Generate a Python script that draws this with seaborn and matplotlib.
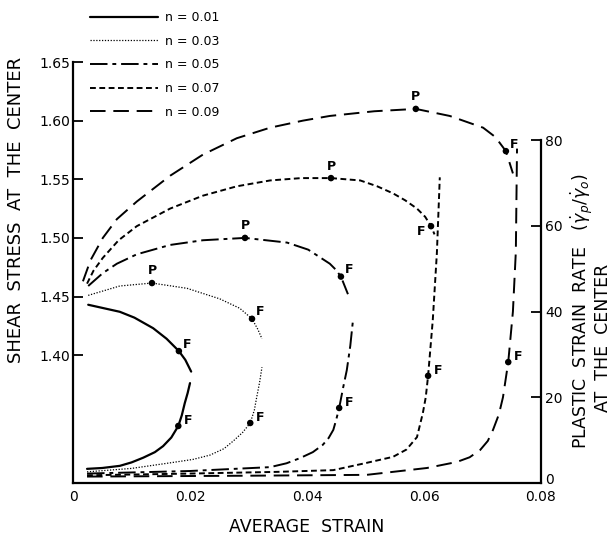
import matplotlib
matplotlib.use("Agg")
import matplotlib.pyplot as plt
import matplotlib.transforms as mtransforms
import seaborn as sns

n_labels = ["n = 0.01", "n = 0.03", "n = 0.05", "n = 0.07", "n = 0.09"]

# shear stress at the center (left axis) vs average strain
stress_x_01 = [0.0026, 0.008, 0.0105, 0.0137, 0.016, 0.0181, 0.0192, 0.0202]
stress_y_01 = [1.443, 1.437, 1.432, 1.423, 1.414, 1.4035, 1.396, 1.386]
stress_x_03 = [0.0026, 0.008, 0.0135, 0.0195, 0.0251, 0.0285, 0.0306, 0.0316, 0.0323]
stress_y_03 = [1.451, 1.459, 1.4615, 1.457, 1.448, 1.440, 1.431, 1.422, 1.414]
stress_x_05 = [0.0026, 0.0051, 0.0075, 0.0109, 0.0166, 0.0222, 0.0294, 0.0366, 0.0402,
               0.0439, 0.0449, 0.0458, 0.047]
stress_y_05 = [1.459, 1.470, 1.478, 1.486, 1.494, 1.498, 1.500, 1.496, 1.490,
               1.478, 1.473, 1.467, 1.452]
stress_x_07 = [0.0024, 0.0035, 0.0051, 0.0078, 0.0109, 0.0166, 0.0222, 0.028, 0.0337, 0.039,
               0.0441, 0.0491, 0.052, 0.0547, 0.0568, 0.0588, 0.0602, 0.0612, 0.0618]
stress_y_07 = [1.461, 1.472, 1.483, 1.498, 1.510, 1.525, 1.536, 1.544, 1.549, 1.551,
               1.551, 1.549, 1.544, 1.538, 1.532, 1.525, 1.518, 1.510, 1.503]
stress_x_09 = [0.0017, 0.003, 0.0051, 0.0075, 0.0109, 0.0166, 0.0222, 0.028, 0.0337, 0.0393,
               0.0439, 0.0515, 0.0586, 0.0644, 0.0701, 0.0722, 0.0740, 0.0752]
stress_y_09 = [1.463, 1.481, 1.500, 1.516, 1.531, 1.553, 1.571, 1.585, 1.594, 1.600,
               1.604, 1.608, 1.610, 1.604, 1.594, 1.586, 1.574, 1.555]

# plastic strain rate at the center (right axis)
rate_x_01 = [0.0024, 0.005, 0.008, 0.010, 0.012, 0.014, 0.0154, 0.0168, 0.018, 0.0186,
             0.0191, 0.0196, 0.0200]
rate_y_01 = [3.3, 3.5, 4.0, 4.8, 5.9, 7.2, 8.6, 10.6, 13.3, 15.8, 18.6, 21.0, 23.3]
rate_x_03 = [0.0024, 0.010, 0.0166, 0.0205, 0.0234, 0.0258, 0.0274, 0.029, 0.0303, 0.0310,
             0.0314, 0.0319, 0.0323]
rate_y_03 = [2.6, 3.4, 4.7, 5.5, 6.5, 8.0, 9.8, 11.8, 14.0, 17.0, 20.0, 23.5, 27.0]
rate_x_05 = [0.0024, 0.020, 0.0337, 0.0365, 0.0388, 0.041, 0.0427, 0.0437, 0.0445, 0.0450,
             0.0455, 0.0462, 0.0468, 0.0474, 0.0479]
rate_y_05 = [2.2, 2.8, 3.7, 4.6, 5.8, 7.2, 8.9, 10.5, 12.4, 14.8, 17.5, 22.4, 26.3, 32.0, 38.5]
rate_x_07 = [0.0024, 0.020, 0.035, 0.0445, 0.0502, 0.0547, 0.057, 0.0588, 0.0598, 0.0603,
             0.0607, 0.0615, 0.0622, 0.0627]
rate_y_07 = [1.8, 2.2, 2.6, 3.0, 4.7, 6.1, 7.8, 10.7, 16.3, 20.0, 25.0, 38.0, 53.6, 71.3]
rate_x_09 = [0.0024, 0.030, 0.040, 0.0502, 0.0605, 0.0656, 0.0678, 0.0696, 0.0709, 0.0718,
             0.0728, 0.0735, 0.0744, 0.0752, 0.0757, 0.0759]
rate_y_09 = [1.5, 1.7, 1.8, 1.9, 3.5, 4.9, 6.0, 7.7, 9.8, 12.4, 16.0, 20.0, 28.2, 40.0, 54.0, 78.0]

# P (peak) and F points
p_x = [0.0135, 0.0294, 0.0441, 0.0586]
p_y = [1.4615, 1.500, 1.551, 1.610]
f_stress_x = [0.0181, 0.0306, 0.0458, 0.0612, 0.0740]
f_stress_y = [1.4035, 1.431, 1.467, 1.510, 1.574]
f_rate_x = [0.018, 0.0303, 0.0455, 0.0607, 0.0744]
f_rate_y = [13.3, 14.0, 17.5, 25.0, 28.2]

stress_curves = [(stress_x_01, stress_y_01), (stress_x_03, stress_y_03), (stress_x_05, stress_y_05),
                 (stress_x_07, stress_y_07), (stress_x_09, stress_y_09)]
rate_curves = [(rate_x_01, rate_y_01), (rate_x_03, rate_y_03), (rate_x_05, rate_y_05),
               (rate_x_07, rate_y_07), (rate_x_09, rate_y_09)]
line_styles = ['-', (0, (1, 1.3)), (0, (9, 2.5, 2, 2.5)), (0, (3, 1.8)), (0, (8, 4))]
line_widths = [1.6, 0.9, 1.4, 1.4, 1.4]

sns.set_theme(style="white")
plt.rcParams['font.family'] = ['DejaVu Sans']
plt.rcParams['text.color'] = 'black'
plt.rcParams['axes.labelcolor'] = 'black'
plt.rcParams['xtick.color'] = 'black'
plt.rcParams['ytick.color'] = 'black'

fig = plt.figure(figsize=(6.14, 5.39), dpi=100)
ax = fig.add_axes([73/614, 1 - 483/539, 468/614, 421/539])
ax2 = ax.twinx()

handles = []
for i in range(5):
    sx, sy = stress_curves[i]
    rx, ry = rate_curves[i]
    sns.lineplot(x=sx, y=sy, ax=ax, color='black', sort=False, estimator=None,
                 linestyle=line_styles[i], linewidth=line_widths[i])
    handles.append(ax.get_lines()[-1])
    sns.lineplot(x=rx, y=ry, ax=ax2, color='black', sort=False, estimator=None,
                 linestyle=line_styles[i], linewidth=line_widths[i])

sns.scatterplot(x=p_x, y=p_y, ax=ax, color='black', s=22, edgecolor='none', zorder=5)
sns.scatterplot(x=f_stress_x, y=f_stress_y, ax=ax, color='black', s=22, edgecolor='none', zorder=5)
sns.scatterplot(x=f_rate_x, y=f_rate_y, ax=ax2, color='black', s=22, edgecolor='none', zorder=5)

for x, y in zip(p_x, p_y):
    ax.annotate('P', (x, y), xytext=(0, 4), textcoords='offset points',
                ha='center', va='bottom', fontsize=9, fontweight='bold')
for i, (x, y) in enumerate(zip(f_stress_x, f_stress_y)):
    if i == 3:
        ax.annotate('F', (x, y), xytext=(-4, -4), textcoords='offset points',
                    ha='right', va='center', fontsize=9, fontweight='bold')
    else:
        ax.annotate('F', (x, y), xytext=(3, 5), textcoords='offset points',
                    ha='left', va='center', fontsize=9, fontweight='bold')
for x, y in zip(f_rate_x, f_rate_y):
    ax2.annotate('F', (x, y), xytext=(4, 4), textcoords='offset points',
                 ha='left', va='center', fontsize=9, fontweight='bold')

ax.set_xlim(0, 0.08)
ax.set_ylim(1.291, 1.65)
ax2.set_ylim(0, 98.2)

ax.set_xticks([0, 0.02, 0.04, 0.06, 0.08])
ax.set_xticklabels(['0', '0.02', '0.04', '0.06', '0.08'])
ax.set_yticks([1.40, 1.45, 1.50, 1.55, 1.60, 1.65])
ax.set_yticklabels(['1.40', '1.45', '1.50', '1.55', '1.60', '1.65'])
ax2.set_yticks([0, 20, 40, 60, 80])
ax2.set_yticklabels(['0', '20', '40', '60', '80'])

ax.tick_params(axis='both', direction='in', length=7, width=1.3, labelsize=10, colors='black')
ax.tick_params(axis='y', pad=2)
ax.tick_params(axis='x', pad=5)
ax2.tick_params(axis='y', direction='in', length=7, width=1.3, labelsize=10, pad=3, colors='black')
ax.set_xlabel('')
ax.set_ylabel('')
ax2.set_ylabel('')

# lift the right-hand "0" a little so it sits just above "0.08"
zero_lbl = ax2.get_yticklabels()[0]
zero_lbl.set_transform(zero_lbl.get_transform() +
                       mtransforms.ScaledTranslation(0, 5/100, fig.dpi_scale_trans))

for s in ['top', 'right']:
    ax.spines[s].set_visible(False)
for s in ['top', 'left', 'bottom']:
    ax2.spines[s].set_visible(False)
for s in ['left', 'bottom']:
    ax.spines[s].set_linewidth(1.6)
    ax.spines[s].set_color('black')
ax2.spines['right'].set_linewidth(1.6)
ax2.spines['right'].set_color('black')
ax2.spines['right'].set_bounds(0, 80)

fig.legend(handles, n_labels, loc='upper left', bbox_to_anchor=(90/614, 1 - 11/539),
           frameon=False, fontsize=9, handlelength=5.4, handletextpad=0.6,
           labelspacing=0.85, borderpad=0, borderaxespad=0)

fig.text(16/614, 1 - 210/539, 'SHEAR  STRESS  AT  THE  CENTER', rotation=90,
         ha='center', va='center', fontsize=13)
fig.text(582/614, 1 - 311/539, r'PLASTIC  STRAIN  RATE   $(\dot{\gamma}_p/\dot{\gamma}_o)$',
         rotation=90, ha='center', va='center', fontsize=12.5)
fig.text(603/614, 1 - 338/539, 'AT  THE  CENTER', rotation=90,
         ha='center', va='center', fontsize=12.5)
fig.text(307/614, 1 - 527/539, 'AVERAGE  STRAIN', ha='center', va='center', fontsize=12.5)

fig.savefig('out.png', dpi=100)
